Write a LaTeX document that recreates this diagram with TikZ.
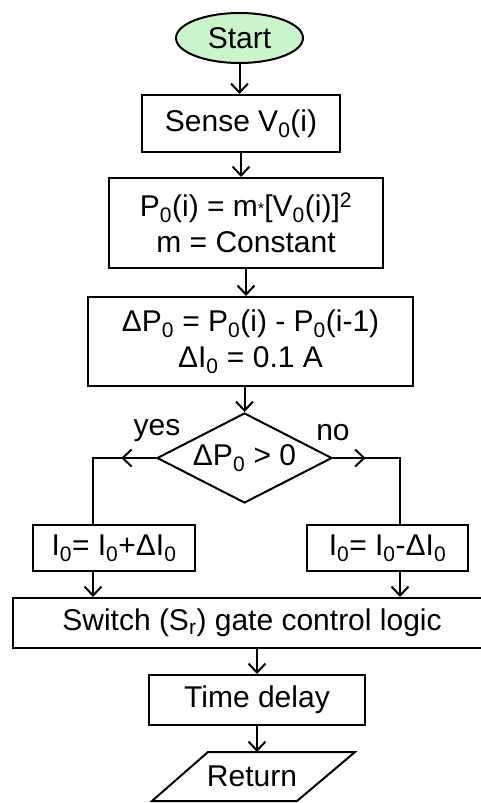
\documentclass[tikz,border=0pt]{standalone}
\usepackage{fontspec}
\setmainfont{Liberation Sans}
\usetikzlibrary{shapes.geometric,arrows.meta,decorations.markings}
\definecolor{startgreen}{RGB}{204,245,204}
\newcommand{\dn}[1]{\textsubscript{#1}}
\newcommand{\up}[1]{\textsuperscript{#1}}
\newcommand{\smallstar}{\raisebox{0.15ex}{\scalebox{0.55}{*}}}
\begin{document}
\begin{tikzpicture}[x=1pt,y=-1pt,
  every node/.style={font=\fontsize{30}{36}\selectfont},
  line/.style={line width=2pt},
  arr/.style={line, -{Straight Barb[length=9pt,width=17pt]}},
  box/.style={draw, line width=2pt, inner sep=0pt, align=center},
  midarrow/.style={postaction={decorate}, decoration={markings, mark=at position #1 with {\arrow{Straight Barb[length=9pt,width=17pt]}}}}
  ]
\useasboundingbox (0,0) rectangle (480,803);
\node[ellipse, draw, line, fill=startgreen, minimum width=127pt, minimum height=50pt, inner sep=0pt] (start) at (239.5,38) {Start};
\node[box, minimum width=198pt, minimum height=57pt] (sense) at (241,123.5) {Sense V\dn{0}(i)};
\node[box, minimum width=274pt, minimum height=90pt] (p0) at (246,223) {P\dn{0}(i) = m\smallstar[V\dn{0}(i)]\up{2}\\ m = Constant};
\node[box, minimum width=325pt, minimum height=89pt] (dp) at (250.5,341.5) {ΔP\dn{0} = P\dn{0}(i) - P\dn{0}(i-1)\\ ΔI\dn{0} = 0.1 A};
\node[diamond, draw, line, inner sep=0pt, aspect=1.94, minimum width=175pt, minimum height=90pt] (dec) at (244.5,458) {ΔP\dn{0} > 0};
\node[box, minimum width=162pt, minimum height=46pt] (yesbox) at (114,548) {I\dn{0}= I\dn{0}+ΔI\dn{0}};
\node[box, minimum width=161pt, minimum height=46pt] (nobox) at (387.5,548) {I\dn{0}= I\dn{0}-ΔI\dn{0}};
\node[box, minimum width=478pt, minimum height=50pt] (sw) at (252,623) {Switch (S\dn{r}) gate control logic};
\node[box, minimum width=216pt, minimum height=50pt] (td) at (257,700) {Time delay};
\node (ret) at (252,776) {Return};
\draw[line] (208,752) -- (355,752) -- (297,801) -- (152,801) -- cycle;
\coordinate (rettop) at (257,752);
\coordinate (yk) at (93,458);
\coordinate (nk) at (400,458);
\node (yeslbl) at (157,431) {yes};
\node (nolbl) at (333,433) {no};
\draw[arr] (start.south) -- (start.south |- sense.north);
\draw[arr] (sense.south) -- (sense.south |- p0.north);
\draw[arr] (p0.south) -- (p0.south |- dp.north);
\draw[arr] (dec.north |- dp.south) -- (dec.north);
\draw[line, midarrow=0.27] (dec.west) -- (yk) -- (yk |- yesbox.north);
\draw[line, midarrow=0.245] (dec.east) -- (nk) -- (nk |- nobox.north);
\draw[arr] (yk |- yesbox.south) -- (yk |- sw.north);
\draw[arr] (nk |- nobox.south) -- (nk |- sw.north);
\draw[arr] (td.north |- sw.south) -- (td.north);
\draw[arr] (td.south) -- (rettop);
\end{tikzpicture}
\end{document}
